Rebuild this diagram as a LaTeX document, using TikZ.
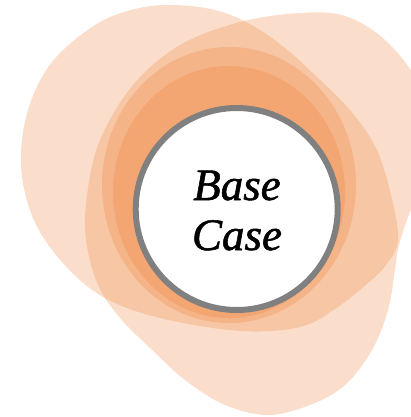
\documentclass[tikz,border=0pt]{standalone}
\usepackage{fontspec}
\setmainfont{Liberation Serif}
\newfontfamily\labelfont{Liberation Serif}[ItalicFeatures={FakeBold=1.2}]
\begin{document}
\begin{tikzpicture}[x=1pt,y=-1pt]
  \definecolor{blobcol}{HTML}{ED7D31}
  \definecolor{ringcol}{HTML}{808080}
  \tikzset{
    blobfill/.style={fill=blobcol, fill opacity=0.25, draw=none},
    core/.style={circle, draw=ringcol, line width=6pt, fill=white,
                 minimum size=202pt, inner sep=0pt},
    word/.style={anchor=base, inner sep=0pt,
                 font=\labelfont\fontsize{45}{50}\selectfont\itshape}
  }
  \useasboundingbox (0,0) rectangle (411,417);
  \begin{scope}
    \clip (0,0) rectangle (411,417);
    % upper-left lobe
    \fill[blobfill] plot[smooth cycle, tension=0.6] coordinates {
      (173,5) (215,10) (250,24) (285,48) (318,78) (350,110) (376,148)
      (391,195) (398,240) (386,265) (367,284) (335,309) (300,327)
      (240,331) (160,318) (103,297) (62,262) (33,218) (21,165)
      (28,110) (52,62) (95,25) (135,9)};
    % right and lower lobe
    \fill[blobfill] plot[smooth cycle, tension=0.6] coordinates {
      (300,13) (345,16) (385,40) (418,82) (432,130) (428,175) (412,207)
      (399,245) (395,270) (388,310) (372,350) (345,385) (310,405)
      (268,415) (225,405) (185,380) (150,348) (120,318) (98,285)
      (86,240) (87,195) (100,140) (133,85) (180,45) (240,22)};
    % inner halos
    \fill[blobfill] (229,185) ellipse [x radius=127, y radius=138];
    \fill[blobfill] (229,192) ellipse [x radius=116, y radius=126];
  \end{scope}
  \node[core] (hub) at (236.7,209) {};
  \node[word] (baseword) at (237,200) {Base};
  \node[word] (caseword) at (237,250) {Case};
\end{tikzpicture}
\end{document}
